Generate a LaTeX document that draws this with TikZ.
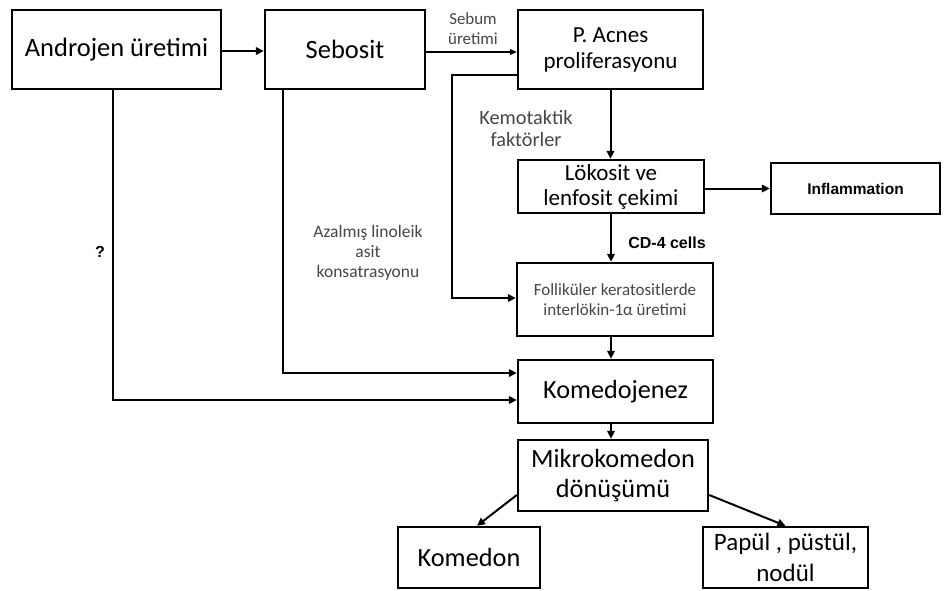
\documentclass[tikz,border=0pt]{standalone}
\usepackage{fontspec}
\setmainfont{Carlito}
\newfontfamily\arialf{Liberation Sans}
\usetikzlibrary{arrows.meta}
\definecolor{lbl}{RGB}{70,70,70}
\tikzset{
  box/.style={draw=black, line width=2.4pt, fill=white, inner sep=0pt, align=center, text=black},
  arr/.style={line width=2pt, -{Triangle[length=8pt,width=7.5pt]}},
  thinarr/.style={line width=1.2pt, -{Triangle[length=7pt,width=6pt]}},
  lab/.style={inner sep=0pt, align=center, text=lbl},
}
\begin{document}
\begin{tikzpicture}[x=1pt,y=-1pt]
\useasboundingbox (0,0) rectangle (944,590);
% boxes
\node[box, minimum width=209pt, minimum height=79pt, font=\fontsize{26.5}{30}\selectfont] (andro) at (116.5,49.5) {Androjen üretimi};
\node[box, minimum width=160pt, minimum height=79pt, font=\fontsize{26.5}{30}\selectfont] (sebo) at (345,49.5) {Sebosit};
\node[box, minimum width=185pt, minimum height=79pt, font=\fontsize{23}{26}\selectfont] (pacnes) at (610.5,49.5) {P. Acnes\\proliferasyonu};
\node[box, minimum width=186pt, minimum height=53pt, font=\fontsize{23}{25}\selectfont] (lok) at (611,186.5) {Lökosit ve\\lenfosit çekimi};
\node[box, minimum width=169pt, minimum height=51pt, font=\arialf\bfseries\fontsize{15.5}{18}\selectfont] (infl) at (855.5,188.5) {Inflammation};
\node[box, minimum width=196pt, minimum height=73pt, text=lbl, font=\fontsize{17}{19.5}\selectfont] (foll) at (615,299.5) {Folliküler keratositlerde\\interlökin-1α üretimi};
\node[box, minimum width=195pt, minimum height=63pt, font=\fontsize{26.2}{30}\selectfont] (komj) at (615.5,391.5) {Komedojenez};
\node[box, minimum width=190pt, minimum height=71pt, font=\fontsize{26.3}{30}\selectfont] (mikro) at (613,475.5) {Mikrokomedon\\dönüşümü};
\node[box, minimum width=142pt, minimum height=61pt, font=\fontsize{26.3}{30}\selectfont] (komedon) at (469,557.5) {Komedon};
\node[box, minimum width=165pt, minimum height=61pt, font=\fontsize{25}{31}\selectfont] (papul) at (785.5,557.5) {Papül , püstül,\\nodül};
% labels
\node[lab, font=\fontsize{16.9}{20}\selectfont] (sebl) at (473,29) {Sebum\\üretimi};
\node[lab, font=\fontsize{20.3}{22}\selectfont] (keml) at (526,129) {Kemotaktik\\faktörler};
\node[inner sep=0pt, font=\arialf\bfseries\fontsize{16}{18}\selectfont] (cdl) at (667,243) {CD-4 cells};
\node[lab, font=\fontsize{17.5}{20}\selectfont] (azl) at (368,253) {Azalmış linoleik\\asit\\konsatrasyonu};
\node[inner sep=0pt, font=\arialf\bfseries\fontsize{16}{18}\selectfont] (ql) at (100,252) {?};
% coordinates
\coordinate (k1) at (452,75);
\coordinate (k2) at (452,298);
\coordinate (s1) at (283,373);
\coordinate (a1) at (113,400);
% connectors
\draw[arr] (andro.east |- 0,51) -- (sebo.west |- 0,51);
\draw[thinarr] (sebo.east |- 0,52) -- (pacnes.west |- 0,52);
\draw[arr] (pacnes.south) -- (pacnes.south |- lok.north);
\draw[arr] (lok.east |- infl.west) -- (infl.west);
\draw[arr] (lok.south) -- (lok.south |- foll.north);
\draw[arr] (pacnes.west |- k1) -- (k1) -- (k2) -- (k2 -| foll.west);
\draw[arr] (foll.south -| lok.south) -- (lok.south |- komj.north);
\draw[arr] (sebo.south -| s1) -- (s1) -- (s1 -| komj.west);
\draw[arr] (andro.south -| a1) -- (a1) -- (a1 -| komj.west);
\draw[arr] (komj.south -| lok.south) -- (lok.south |- mikro.north);
\draw[arr] ([yshift=-19.5pt]mikro.west) -- ([xshift=8pt]komedon.north);
\draw[arr] ([yshift=-19.5pt]mikro.east) -- (papul.north);
\end{tikzpicture}
\end{document}
